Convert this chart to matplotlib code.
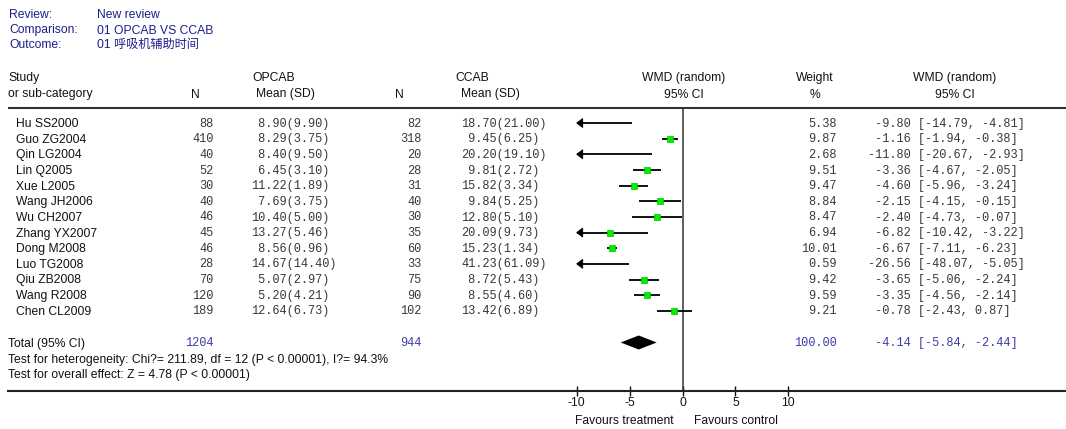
import matplotlib
matplotlib.use("Agg")
import matplotlib.pyplot as plt

# ---------------- data ----------------
review = "New review"
comparison = "01 OPCAB VS CCAB"
outcome = "01 呼吸机辅助时间"
group1 = "OPCAB"
group2 = "CCAB"
studies = ["Hu SS2000", "Guo ZG2004", "Qin LG2004", "Lin Q2005", "Xue L2005",
           "Wang JH2006", "Wu CH2007", "Zhang YX2007", "Dong M2008", "Luo TG2008",
           "Qiu ZB2008", "Wang R2008", "Chen CL2009"]
n1 = [88, 410, 40, 52, 30, 40, 46, 45, 46, 28, 70, 120, 189]
mean1 = [8.90, 8.29, 8.40, 6.45, 11.22, 7.69, 10.40, 13.27, 8.56, 14.67, 5.07, 5.20, 12.64]
sd1 = [9.90, 3.75, 9.50, 3.10, 1.89, 3.75, 5.00, 5.46, 0.96, 14.40, 2.97, 4.21, 6.73]
n2 = [82, 318, 20, 28, 31, 40, 30, 35, 60, 33, 75, 90, 102]
mean2 = [18.70, 9.45, 20.20, 9.81, 15.82, 9.84, 12.80, 20.09, 15.23, 41.23, 8.72, 8.55, 13.42]
sd2 = [21.00, 6.25, 19.10, 2.72, 3.34, 5.25, 5.10, 9.73, 1.34, 61.09, 5.43, 4.60, 6.89]
weight = [5.38, 9.87, 2.68, 9.51, 9.47, 8.84, 8.47, 6.94, 10.01, 0.59, 9.42, 9.59, 9.21]
wmd = [-9.80, -1.16, -11.80, -3.36, -4.60, -2.15, -2.40, -6.82, -6.67, -26.56, -3.65, -3.35, -0.78]
ci_lo = [-14.79, -1.94, -20.67, -4.67, -5.96, -4.15, -4.73, -10.42, -7.11, -48.07, -5.06, -4.56, -2.43]
ci_hi = [-4.81, -0.38, -2.93, -2.05, -3.24, -0.15, -0.07, -3.22, -6.23, -5.05, -2.24, -2.14, 0.87]
total_n1 = 1204
total_n2 = 944
total_weight = 100.00
total_wmd = -4.14
total_lo = -5.84
total_hi = -2.44
heterogeneity = "Test for heterogeneity: Chi?= 211.89, df = 12 (P < 0.00001), I?= 94.3%"
overall = "Test for overall effect: Z = 4.78 (P < 0.00001)"
xticks = [-10, -5, 0, 5, 10]
xtick_labels = ["-10", "-5", "0", "5", "10"]

# ---------------- layout ----------------
W, H = 1066, 429
fig = plt.figure(figsize=(W / 100, H / 100), dpi=100)
fig.patch.set_facecolor("white")

ax = fig.add_axes([0, 0, 1, 1])
ax.set_xlim(0, W)
ax.set_ylim(H, 0)
ax.axis("off")

# forest axes: -10 -> px 576.7, 10 -> px 788.3
px0, px_per = 682.5, 10.58
axf = fig.add_axes([0, 0, 1, 1], facecolor="none")
axf.set_xlim((0 - px0) / px_per, (W - px0) / px_per)
axf.set_ylim(H, 0)
xmin_plot, xmax_plot = -10, 10

SANS = ["Liberation Sans", "Noto Sans CJK SC", "DejaVu Sans"]
MONO = "Liberation Mono"
fs = 8.75
fsm = 8.6
BLUE_H = "#1e1e8c"
BLUE_T = "#3c3ca8"
MONO_C = "#383838"

def stext(x, yc, s, ha="left", color="#111111", size=fs):
    ax.text(x, yc + 4.0, s, ha=ha, va="baseline", fontsize=size, family=SANS, color=color)

def mtext(x, yc, s, ha="left", color=MONO_C):
    ax.text(x, yc + 3.6, s, ha=ha, va="baseline", fontsize=fsm, family=MONO, color=color)

# header block
for yc, lab, val in [(14, "Review:", review), (29.5, "Comparison:", comparison), (44, "Outcome:", outcome)]:
    stext(9, yc, lab, color=BLUE_H)
    stext(97, yc, val, color=BLUE_H)

# column headers
y_h1, y_h2 = 77, 93.5
stext(8, y_h1, "Study")
stext(8, y_h2, "or sub-category")
stext(273.8, y_h1, group1, ha="center")
stext(195, y_h2, "N", ha="center")
stext(285.8, y_h2, "Mean (SD)", ha="center")
stext(471.8, y_h1, group2, ha="center")
stext(399.4, y_h2, "N", ha="center")
stext(490.7, y_h2, "Mean (SD)", ha="center")
stext(683.5, y_h1, "WMD (random)", ha="center")
stext(683.5, y_h2, "95% CI", ha="center")
stext(815, y_h1, "Weight", ha="center")
stext(815, y_h2, "%", ha="center")
stext(955, y_h1, "WMD (random)", ha="center")
stext(955, y_h2, "95% CI", ha="center")

# rules
ax.plot([8, W], [108, 108], color="#333333", lw=1.5, solid_capstyle="butt")

# rows
y0, dy = 123, 15.65
rows_y = [y0 + i * dy for i in range(len(studies))]
for i, yc in enumerate(rows_y):
    stext(16, yc, studies[i])
    mtext(213.5, yc, f"{n1[i]}", ha="right")
    mtext(251.4, yc, f"{mean1[i]:5.2f}({sd1[i]:.2f})")
    mtext(421.8, yc, f"{n2[i]}", ha="right")
    mtext(461.4, yc, f"{mean2[i]:5.2f}({sd2[i]:.2f})")
    mtext(836.7, yc, f"{weight[i]:.2f}", ha="right")
    mtext(868, yc, f"{wmd[i]:6.2f} [{ci_lo[i]:.2f}, {ci_hi[i]:.2f}]")

# totals and tests
y_tot = 342.5
stext(8, y_tot, "Total (95% CI)")
mtext(213.5, y_tot, f"{total_n1}", ha="right", color=BLUE_T)
mtext(421.8, y_tot, f"{total_n2}", ha="right", color=BLUE_T)
mtext(836.7, y_tot, f"{total_weight:.2f}", ha="right", color=BLUE_T)
mtext(868, y_tot, f"{total_wmd:6.2f} [{total_lo:.2f}, {total_hi:.2f}]", color=BLUE_T)
stext(8, 358.5, heterogeneity)
stext(8, 374, overall)

# ---------------- forest plot ----------------
y_axis = 390.5
axf.plot([0, 0], [108, y_axis], color="#333333", lw=1.1, zorder=2)

arrow_len = 6 / px_per
arrow_half = 4.5
for i, yc in enumerate(rows_y):
    lo = max(ci_lo[i], xmin_plot)
    hi = min(ci_hi[i], xmax_plot)
    axf.plot([lo, hi], [yc, yc], color="black", lw=1.3, zorder=3, solid_capstyle="butt")
    clipped = ci_lo[i] < xmin_plot
    hidden = clipped and wmd[i] < xmin_plot + 3 * arrow_len
    if xmin_plot <= wmd[i] <= xmax_plot and not hidden:
        ms = 3.4 + 0.11 * weight[i]
        axf.plot(wmd[i], yc, marker="s", ms=ms, mfc="#00f000", mec="#00c000", mew=0.5, zorder=4)
    if clipped:
        axf.fill([xmin_plot, xmin_plot + arrow_len, xmin_plot + arrow_len],
                 [yc, yc - arrow_half, yc + arrow_half], color="black", lw=0.6, zorder=5)

# diamond
axf.fill([total_lo, total_wmd, total_hi, total_wmd],
         [y_tot, y_tot - 7, y_tot, y_tot + 7], color="black", lw=0, zorder=5)

# axis
for s in ["top", "left", "right"]:
    axf.spines[s].set_visible(False)
axf.spines["bottom"].set_position(("data", y_axis))
axf.spines["bottom"].set_bounds((8 - px0) / px_per, (W - px0) / px_per)
axf.spines["bottom"].set_linewidth(1.5)
axf.spines["bottom"].set_color("#222222")
axf.set_xticks(xticks)
axf.set_xticklabels(xtick_labels, fontsize=fs, family=SANS)
axf.tick_params(axis="x", direction="inout", length=7, width=1, pad=1, colors="#111111")
axf.set_yticks([])

axf.text(-0.83, 420.5 + 4.0, "Favours treatment", ha="right", va="baseline", fontsize=fs, family=SANS, color="#111111")
axf.text(1.05, 420.5 + 4.0, "Favours control", ha="left", va="baseline", fontsize=fs, family=SANS, color="#111111")

fig.savefig("out.png", dpi=100, facecolor="white")
